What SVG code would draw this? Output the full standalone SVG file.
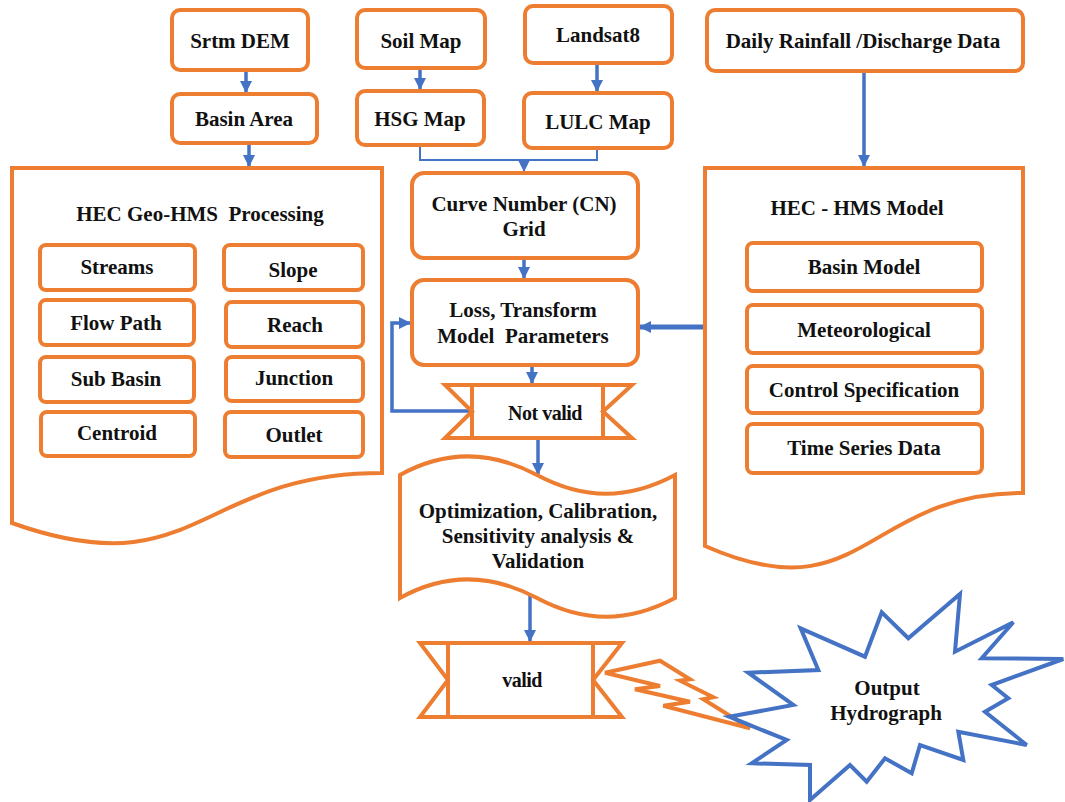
<svg xmlns="http://www.w3.org/2000/svg" width="1065" height="802" viewBox="0 0 1065 802">
<style>
.box{fill:#fff;stroke:#ED7D31;stroke-width:4;}
.t{font-family:'Liberation Serif','Times New Roman','DejaVu Serif',serif;font-weight:700;font-size:21px;fill:#111;text-anchor:middle;white-space:pre;}
.c{fill:none;stroke:#4472C4;stroke-width:3.5;}
.thin{fill:none;stroke:#4472C4;stroke-width:2;}
.star{fill:#fff;stroke:#4472C4;stroke-width:4;stroke-linejoin:miter;}
</style>
<defs>
<marker id="ah" markerUnits="userSpaceOnUse" markerWidth="12" markerHeight="12" refX="11" refY="6" orient="auto">
<path d="M0,0 L12,6 L0,12 Z" fill="#4472C4"/>
</marker>
</defs>
<rect width="1065" height="802" fill="#fff"/>

<g id="connectors">
<line class="c" x1="246" y1="71" x2="246" y2="92" marker-end="url(#ah)"/>
<line class="c" x1="249" y1="144" x2="249" y2="166" marker-end="url(#ah)"/>
<line class="c" x1="420" y1="69" x2="420" y2="89" marker-end="url(#ah)"/>
<line class="c" x1="597" y1="64" x2="597" y2="91" marker-end="url(#ah)"/>
<polyline class="thin" points="420,147 420,160 597,160 597,149"/>
<line class="thin" x1="524" y1="160" x2="524" y2="171" marker-end="url(#ah)"/>
<line class="c" x1="864" y1="72" x2="864" y2="166" marker-end="url(#ah)"/>
<line class="c" x1="524" y1="259" x2="524" y2="278" marker-end="url(#ah)"/>
<line class="c" x1="532" y1="366" x2="532" y2="383" marker-end="url(#ah)"/>
<polyline class="c" points="470,411 392,411 392,323 410,323" marker-end="url(#ah)"/>
<line class="c" style="stroke-width:5" x1="706" y1="327" x2="640" y2="327" marker-end="url(#ah)"/>
<line class="c" x1="538" y1="440" x2="538" y2="474" marker-end="url(#ah)"/>
<line class="c" x1="530" y1="590" x2="530" y2="641" marker-end="url(#ah)"/>
</g>

<g id="srtm"><rect class="box" x="172" y="10" width="136" height="60" rx="8"/><text class="t" font-family="Liberation Serif" x="240" y="48">Srtm DEM</text></g>
<g id="basin-area"><rect class="box" x="172" y="94" width="145" height="49" rx="8"/><text class="t" x="244" y="126">Basin Area</text></g>
<g id="soil"><rect class="box" x="357" y="10" width="128" height="58" rx="8"/><text class="t" x="421" y="48">Soil Map</text></g>
<g id="hsg"><rect class="box" x="357" y="91" width="127" height="54" rx="8"/><text class="t" x="420" y="126">HSG Map</text></g>
<g id="landsat"><rect class="box" x="525" y="6" width="147" height="57" rx="8"/><text class="t" x="598" y="42">Landsat8</text></g>
<g id="lulc"><rect class="box" x="524" y="93" width="148" height="55" rx="8"/><text class="t" x="598" y="129">LULC Map</text></g>
<g id="rain"><rect class="box" x="707" y="10" width="316" height="61" rx="8"/><text class="t" x="863" y="48">Daily Rainfall /Discharge Data</text></g>

<g id="geohms">
<path class="box" d="M12,168 H382 V473 C197,473 197,589 12,523 Z"/>
<text class="t" x="200" y="221">HEC Geo-HMS  Processing</text>
<rect class="box" x="40" y="245" width="155" height="45" rx="6"/><text class="t" x="117" y="274">Streams</text>
<rect class="box" x="40" y="300" width="154" height="45" rx="6"/><text class="t" x="116" y="330">Flow Path</text>
<rect class="box" x="40" y="357" width="154" height="45" rx="6"/><text class="t" x="116" y="386">Sub Basin</text>
<rect class="box" x="41" y="412" width="154" height="44" rx="6"/><text class="t" x="117" y="440">Centroid</text>
<rect class="box" x="224" y="245" width="139" height="45" rx="6"/><text class="t" x="293" y="277">Slope</text>
<rect class="box" x="226" y="302" width="137" height="45" rx="6"/><text class="t" x="295" y="332">Reach</text>
<rect class="box" x="226" y="357" width="137" height="44" rx="6"/><text class="t" x="294" y="385">Junction</text>
<rect class="box" x="225" y="412" width="138" height="45" rx="6"/><text class="t" x="294" y="442">Outlet</text>
</g>

<g id="hms">
<path class="box" d="M705,168 H1023 V493 C864,493 864,616 705,546 Z"/>
<text class="t" x="857" y="215">HEC - HMS Model</text>
<rect class="box" x="747" y="243" width="235" height="48" rx="6"/><text class="t" x="864" y="274">Basin Model</text>
<rect class="box" x="747" y="305" width="235" height="48" rx="6"/><text class="t" x="864" y="337">Meteorological</text>
<rect class="box" x="747" y="366" width="235" height="47" rx="6"/><text class="t" x="864" y="397">Control Specification</text>
<rect class="box" x="747" y="424" width="235" height="49" rx="6"/><text class="t" x="864" y="455">Time Series Data</text>
</g>

<g id="cn"><rect class="box" x="412" y="173" width="226" height="85" rx="12"/><text class="t" x="524" y="211">Curve Number (CN)</text><text class="t" x="524" y="236">Grid</text></g>
<g id="loss"><rect class="box" x="412" y="280" width="226" height="85" rx="12"/><text class="t" x="523" y="317">Loss, Transform</text><text class="t" x="523" y="343">Model  Parameters</text></g>

<g id="notvalid">
<path class="box" d="M445,385 H632 L603,411.5 L632,438 H445 L472,411.5 Z"/>
<path class="box" d="M472,385 V438 M603,385 V438"/>
<text class="t" x="545" y="420" style="font-size:20px;letter-spacing:-0.5px">Not valid</text>
</g>

<g id="optimization">
<path class="box" d="M400,475 C445,450 490,450 537,475 C584,500 628,500 675,475 L675,598 C628,623 584,623 537,598 C490,573 445,573 400,598 Z"/>
<text class="t" x="538" y="518">Optimization, Calibration,</text>
<text class="t" x="538" y="543">Sensitivity analysis &amp;</text>
<text class="t" x="538" y="568">Validation</text>
</g>

<g id="valid">
<path class="box" d="M420,643 H622 L593,680 L622,717 H420 L448,680 Z"/>
<path class="box" d="M448,643 V717 M593,643 V717"/>
<text class="t" x="522" y="687" style="font-size:20px;letter-spacing:-0.5px">valid</text>
</g>

<g id="lightning">
<polygon class="box" points="605,672.7 660,660.7 690,679.3 680,680.7 713.3,697.3 703.3,699.3 750,728.3 663.3,705.7 690,701.7 635,689.3 660,686"/>
</g>

<g id="output">
<polygon class="star" points="729.3,716.7 793.3,705 748.3,672.7 818.3,670 800.7,628.3 865,656.7 881.7,612.3 908.3,638.3 960,594 955,651.7 1013.3,622.3 981.7,658.3 1063.3,659 991.7,685 1008.3,698.3 985,711.7 1026.7,745 958.3,731.7 963.3,760 920,745 911.7,773.3 885,758.3 866.7,781.7 850,765 810,800 810,765 751.7,763.3 786.7,740"/>
<text class="t" x="887" y="695">Output</text>
<text class="t" x="886" y="720">Hydrograph</text>
</g>
</svg>
